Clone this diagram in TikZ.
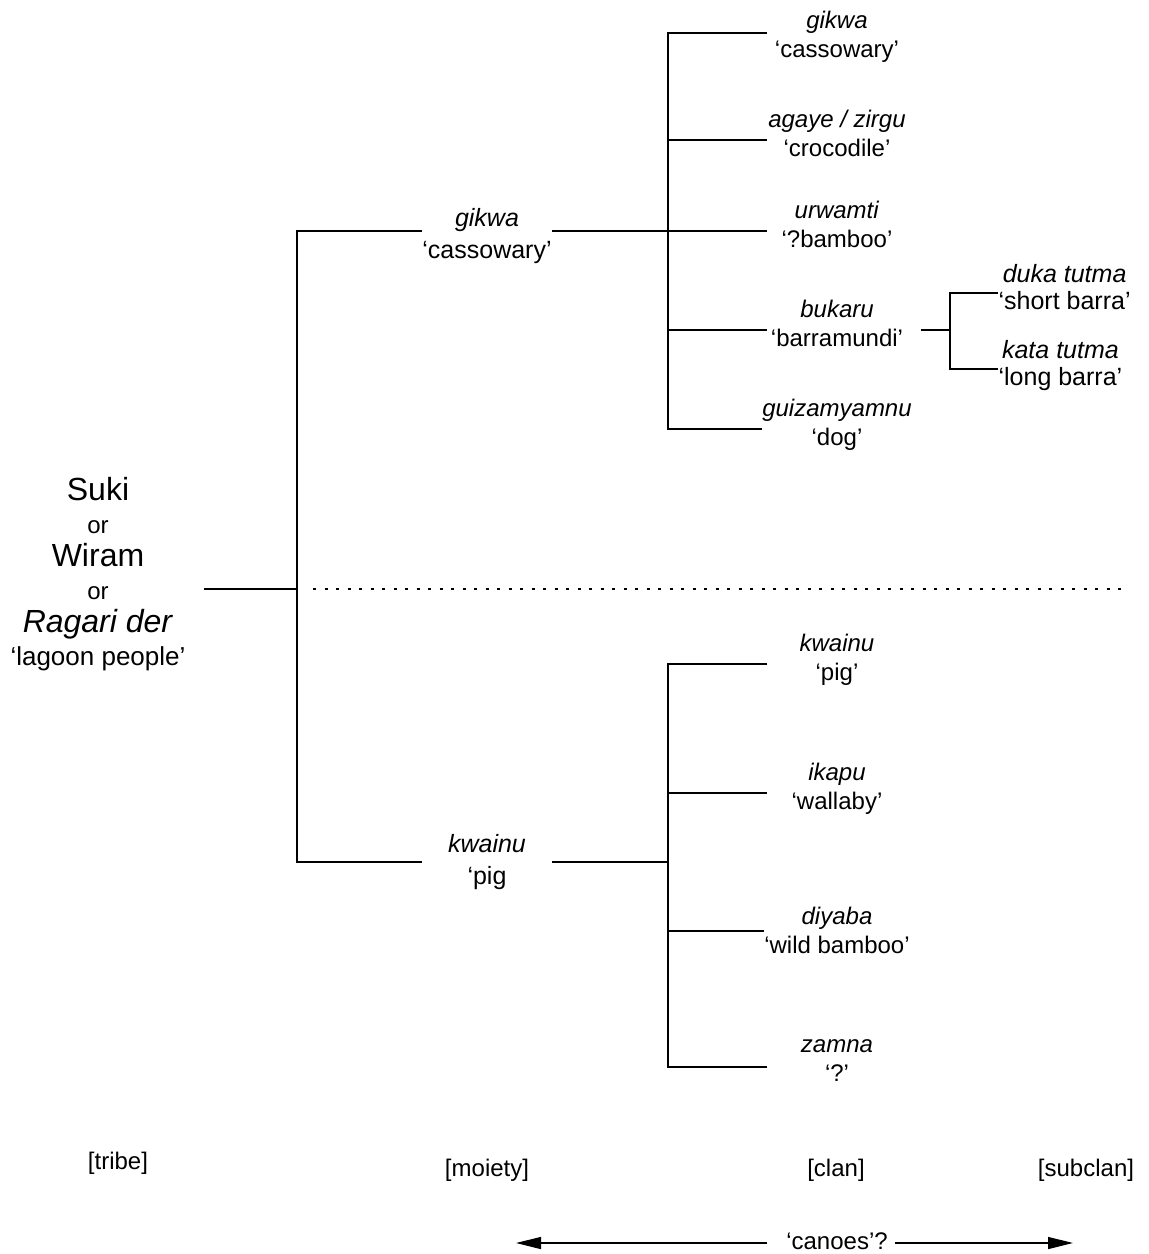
\documentclass[tikz,border=0pt]{standalone}
\usepackage{fontspec}
\setmainfont{Liberation Sans}
\usetikzlibrary{arrows.meta}

\begin{document}
\begin{tikzpicture}[x=0.5pt, y=-0.5pt, line width=0.6pt,
  every node/.style={font=\fontsize{12}{14.5}\selectfont, align=center},
  tribe/.style={font=\fontsize{16}{16.5}\selectfont},
  moiety/.style={font=\fontsize{12.5}{16}\selectfont, inner xsep=0pt, minimum width=64.5pt},
  clan/.style={inner xsep=0pt, minimum width=69pt,
    execute at end node={\rule[-6.5pt]{0pt}{6.5pt}}},
  subclan/.style={font=\fontsize{12.5}{13.5}\selectfont, inner xsep=0pt, anchor=west,
    execute at end node={\rule[-6.5pt]{0pt}{6.5pt}}},
  level/.style={font=\fontsize{12}{14}\selectfont},
  sep/.style={line width=1.2pt, dash pattern=on 1.6pt off 4.15pt},
  > = {Triangle[length=12.5pt,width=6pt]}]
  \useasboundingbox (0,0) rectangle (1149,1254);

  % tribe
  \node[tribe] (tribe) at (98,574) {Suki\\{\fontsize{12}{16.5}\selectfont or}\\Wiram\\{\fontsize{12}{16.5}\selectfont or}\\\textit{Ragari der}\\{\fontsize{13}{16.5}\selectfont ‘lagoon people’}};
  \coordinate (root) at (297,589);

  % moieties
  \node[moiety] (cass) at (487,231) {\rule{0pt}{14pt}\textit{gikwa}\\‘cassowary’};
  \node[moiety] (pig) at (487,862) {\textit{kwainu}\\‘pig};
  \coordinate (upbar) at (668,231);
  \coordinate (lowbar) at (668,862);

  % clans
  \node[clan] (gikwa) at (837,33) {\rule{0pt}{16.6pt}\textit{gikwa}\\‘cassowary’};
  \node[clan] (agaye) at (837,140) {\textit{agaye / zirgu}\\‘crocodile’};
  \node[clan] (urwamti) at (837,231) {\textit{urwamti}\\‘?bamboo’};
  \node[clan] (bukaru) at (837,330) {\textit{bukaru}\\‘barramundi’};
  \node[clan] (guiza) at (837,429) {\textit{guizamyamnu}\\‘dog’};
  \node[clan] (kwainu) at (837,664) {\textit{kwainu}\\‘pig’};
  \node[clan] (ikapu) at (837,793) {\textit{ikapu}\\‘wallaby’};
  \node[clan] (diyaba) at (837,931) {\rule{0pt}{14.6pt}\textit{diyaba}\\‘wild bamboo’};
  \node[clan] (zamna) at (837,1067) {\textit{zamna}\\‘?’};

  % subclans
  \coordinate (subbar) at (950,330);
  \node[subclan] (duka) at (998,293) {\textit{duka tutma}\\‘short barra’};
  \node[subclan] (kata) at (998,369) {\textit{kata tutma}\\‘long barra’};

  % tree lines
  \draw ([xshift=5.5pt]tribe.east |- root) -- (root);
  \draw (cass.west) -- (cass.west -| root) -- (pig.west -| root) -- (pig.west);
  \draw (cass.east) -- (upbar);
  \draw (pig.east) -- (lowbar);
  \draw (gikwa.west) -- (gikwa.west -| upbar) -- (guiza.west -| upbar) -- (guiza.west);
  \foreach \n in {agaye,urwamti,bukaru}
    \draw (\n.west -| upbar) -- (\n.west);
  \draw (kwainu.west) -- (kwainu.west -| lowbar) -- (zamna.west -| lowbar) -- (zamna.west);
  \foreach \n in {ikapu,diyaba}
    \draw (\n.west -| lowbar) -- (\n.west);
  \draw ([xshift=7pt]bukaru.east) -- (subbar);
  \draw (duka.west) -- (duka.west -| subbar) -- (kata.west -| subbar) -- (kata.west);

  % moiety divide
  \draw[sep] ([xshift=8pt]root) -- ++(812,0);

  % levels
  \node[level] (ltribe) at (118,1163) {[tribe]};
  \node[level] (lmoiety) at (487,1170) {[moiety]};
  \node[level] (lclan) at (836,1170) {[clan]};
  \node[level] (lsubclan) at (1086,1170) {[subclan]};

  % canoes
  \node (canoes) at (837,1241) {‘canoes’?};
  \coordinate (arrL) at (516,1243);
  \coordinate (arrR) at (1073,1243);
  \draw[->] ([xshift=-6pt]canoes.west |- arrL) -- (arrL);
  \draw[->] (canoes.east |- arrR) -- (arrR);
\end{tikzpicture}
\end{document}
